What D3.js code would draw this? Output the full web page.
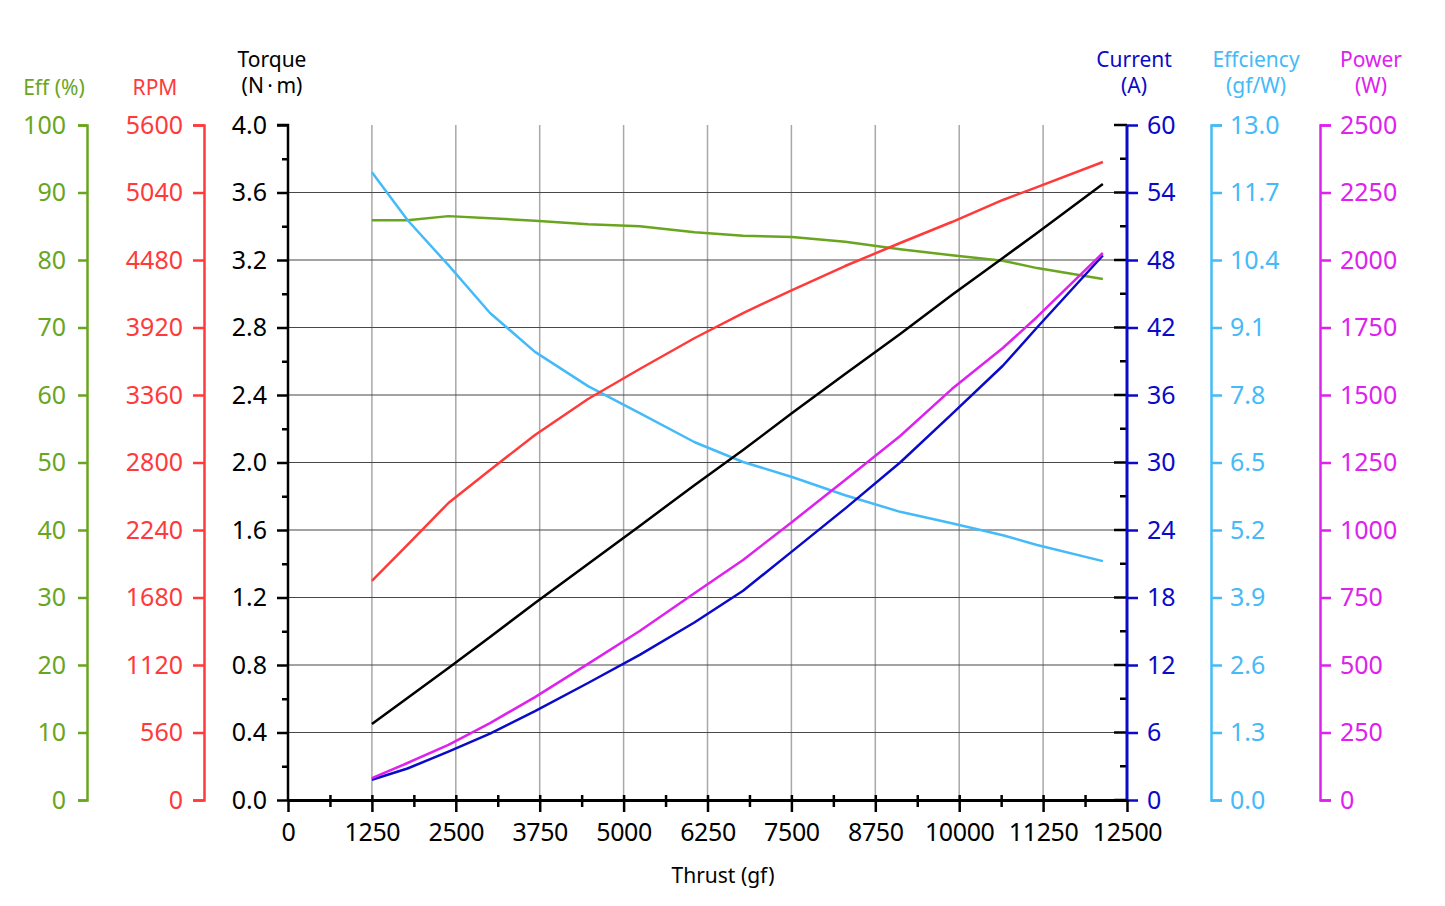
<!DOCTYPE html>
<html>
<head>
<meta charset="utf-8">
<script src="https://cdn.jsdelivr.net/npm/d3@7"></script>
<style>
  html, body { margin: 0; padding: 0; background: #fff; }
  svg { display: block; font-family: "Noto Sans", sans-serif; }
</style>
</head>
<body>
<svg id="chart" width="1445" height="906"></svg>
<script>
// Thrust sample points (gf) and values
const thrust     = [1250, 1780, 2390, 3010, 3680, 4470, 5240, 6060, 6780, 7510, 8300, 9120, 9890, 10650, 11160, 12140];
const effPct     = [85.9, 85.9, 86.5, 86.2, 85.8, 85.3, 85.0, 84.1, 83.6, 83.4, 82.7, 81.6, 80.7, 79.9, 78.8, 77.2];
const rpm        = [1817, 2116, 2464, 2738, 3028, 3327, 3576, 3833, 4040, 4231, 4430, 4621, 4795, 4978, 5085, 5293];
const torque     = [0.450, 0.604, 0.782, 0.966, 1.167, 1.398, 1.624, 1.867, 2.074, 2.293, 2.524, 2.761, 2.993, 3.212, 3.360, 3.650];
const current    = [1.8, 2.8, 4.3, 5.9, 7.9, 10.4, 12.9, 15.8, 18.6, 22.1, 25.9, 30.0, 34.3, 38.6, 42.0, 48.4];
const efficiency = [12.09, 11.17, 10.30, 9.38, 8.63, 7.97, 7.45, 6.89, 6.51, 6.22, 5.87, 5.55, 5.33, 5.10, 4.91, 4.60];
const power      = [81, 137, 204, 285, 381, 504, 626, 767, 889, 1030, 1185, 1348, 1522, 1674, 1789, 2026];

const xTicks      = d3.range(0, 12501, 1250);
const torqueTicks = d3.range(0, 4.01, 0.4);

const svg = d3.select("#chart");
const X0 = 288, X1 = 1127, Y0 = 800, Y1 = 125;
const FS = 25;

const x = d3.scaleLinear().domain([0, 12500]).range([X0, X1]);
const yEff  = d3.scaleLinear().domain([0, 100]).range([Y0, Y1]);
const yRpm  = d3.scaleLinear().domain([0, 5600]).range([Y0, Y1]);
const yTq   = d3.scaleLinear().domain([0, 4]).range([Y0, Y1]);
const yCur  = d3.scaleLinear().domain([0, 60]).range([Y0, Y1]);
const yEffc = d3.scaleLinear().domain([0, 13]).range([Y0, Y1]);
const yPow  = d3.scaleLinear().domain([0, 2500]).range([Y0, Y1]);

const C = {
    eff: "#6aa51f", rpm: "#ff3a3a", tq: "#000000",
    cur: "#0a0ac8", effc: "#45baf8", pow: "#dd22ee"
};

// ─── grid ───
const grid = svg.append("g");
grid.selectAll("line.v").data(xTicks.filter(d => d > 0 && d < 12500)).join("line")
    .attr("x1", d => x(d)).attr("x2", d => x(d)).attr("y1", Y1).attr("y2", Y0)
    .attr("stroke", "#a8a8a8").attr("stroke-width", 1.5);
grid.selectAll("line.h").data(torqueTicks.filter(d => d > 0.01 && d < 3.99)).join("line")
    .attr("x1", X0).attr("x2", X1).attr("y1", d => yTq(d)).attr("y2", d => yTq(d))
    .attr("stroke", "#484848").attr("stroke-width", 1.2);

// ─── axes helper ───
function styleAxis(g, color) {
    g.selectAll("path.domain").attr("stroke", color).attr("stroke-width", 2.5);
    g.selectAll(".tick line").attr("stroke", color).attr("stroke-width", 2.5);
    g.selectAll(".tick text").attr("fill", color).attr("font-size", FS)
        .attr("font-family", "Noto Sans, sans-serif");
    g.attr("font-family", null);
}

function leftAxis(xPos, scale, ticks, fmt, color, size, pad) {
    const g = svg.append("g").attr("transform", `translate(${xPos},0)`)
        .call(d3.axisLeft(scale).tickValues(ticks).tickFormat(fmt)
            .tickSize(size).tickSizeOuter(size).tickPadding(pad));
    styleAxis(g, color);
    return g;
}
function rightAxis(xPos, scale, ticks, fmt, color, size, pad) {
    const g = svg.append("g").attr("transform", `translate(${xPos},0)`)
        .call(d3.axisRight(scale).tickValues(ticks).tickFormat(fmt)
            .tickSize(size).tickSizeOuter(size).tickPadding(pad));
    styleAxis(g, color);
    return g;
}

// Eff (%)
leftAxis(87, yEff, d3.range(0, 101, 10), d3.format("d"), C.eff, 9, 12);
// RPM
leftAxis(204, yRpm, d3.range(0, 5601, 560), d3.format("d"), C.rpm, 11, 10);

// Torque minor ticks
svg.append("g").attr("transform", `translate(${X0},0)`)
    .call(d3.axisLeft(yTq).tickValues(d3.range(0.2, 4, 0.4)).tickFormat("").tickSize(6).tickSizeOuter(0))
    .call(g => g.select(".domain").remove())
    .selectAll("line").attr("stroke", "#000").attr("stroke-width", 2.5);
// Torque
leftAxis(X0, yTq, torqueTicks, d3.format(".1f"), C.tq, 11, 10)
    .select(".domain").attr("d", `M0,${Y0}V${Y1}H-11`);

// inner black ticks on the right frame
svg.append("g").selectAll("line").data(torqueTicks).join("line")
    .attr("x1", X1 - 13).attr("x2", X1).attr("y1", d => yTq(d)).attr("y2", d => yTq(d))
    .attr("stroke", "#000").attr("stroke-width", 2.5);
svg.append("g").selectAll("line").data(d3.range(0.2, 4, 0.4)).join("line")
    .attr("x1", X1 - 7).attr("x2", X1).attr("y1", d => yTq(d)).attr("y2", d => yTq(d))
    .attr("stroke", "#000").attr("stroke-width", 2.5);

// Current
rightAxis(X1, yCur, d3.range(0, 61, 6), d3.format("d"), C.cur, 11, 9)
    .select(".domain").attr("stroke-width", 3).attr("d", `M0,${Y0}V${Y1}`);
// Efficiency
rightAxis(1211, yEffc, d3.range(0, 13.01, 1.3), d3.format(".1f"), C.effc, 11, 8);
// Power
rightAxis(1320, yPow, d3.range(0, 2501, 250), d3.format("d"), C.pow, 11, 9);

// X axis: minor ticks, then major
svg.append("g").attr("transform", `translate(0,${Y0})`)
    .call(d3.axisBottom(x).tickValues(d3.range(625, 12500, 1250)).tickFormat("").tickSize(7).tickSizeOuter(0))
    .call(g => g.select(".domain").remove())
    .selectAll("line").attr("stroke", "#000").attr("stroke-width", 2.5).attr("y1", -5);
const xg = svg.append("g").attr("transform", `translate(0,${Y0})`)
    .call(d3.axisBottom(x).tickValues(xTicks).tickFormat(d3.format("d")).tickSize(12).tickSizeOuter(0).tickPadding(11));
styleAxis(xg, "#000");
xg.select(".domain").attr("stroke-width", 3);
xg.selectAll(".tick line").filter(d => d > 0 && d < 12500).attr("y1", -5);
xg.selectAll(".tick text").attr("letter-spacing", -0.4);

// ─── titles ───
function title(cx, lines, color, y0) {
    const t = svg.append("text").attr("text-anchor", "middle").attr("fill", color)
        .attr("font-size", 21);
    lines.forEach((s, i) => t.append("tspan").attr("x", cx).attr("y", y0 + i * 26).text(s));
}
title(54, ["Eff (%)"], C.eff, 95);
title(155, ["RPM"], C.rpm, 95);
title(272, ["Torque", "(N\u2009·\u2009m)"], C.tq, 67);
title(1134, ["Current", "(A)"], C.cur, 67);
title(1256, ["Effciency", "(gf/W)"], C.effc, 67);
title(1371, ["Power", "(W)"], C.pow, 67);
svg.append("text").attr("x", 723).attr("y", 883).attr("text-anchor", "middle")
    .attr("font-size", 21).attr("fill", "#000").text("Thrust (gf)");

// ─── series ───
const series = [
    { vals: effPct, y: yEff, color: C.eff },
    { vals: efficiency, y: yEffc, color: C.effc },
    { vals: rpm, y: yRpm, color: C.rpm },
    { vals: torque, y: yTq, color: C.tq },
    { vals: current, y: yCur, color: C.cur },
    { vals: power, y: yPow, color: C.pow }
];
series.forEach(s => {
    const line = d3.line().x((d, i) => x(thrust[i])).y(d => s.y(d));
    svg.append("path").attr("d", line(s.vals))
        .attr("fill", "none").attr("stroke", s.color).attr("stroke-width", 2.5)
        .attr("stroke-linejoin", "round");
});
</script>
</body>
</html>
